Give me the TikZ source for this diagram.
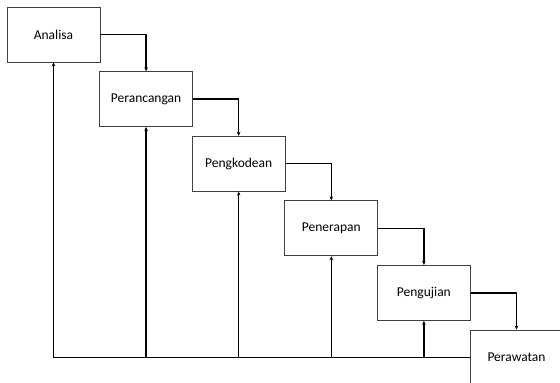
\documentclass[tikz,border=0pt]{standalone}
\usepackage{fontspec}
\setmainfont{Carlito}
\usetikzlibrary{arrows.meta}

\begin{document}
\begin{tikzpicture}[x=1pt, y=-1pt, every node/.style ={shape=rectangle, draw=black!75, line width=0.8pt, minimum width=93pt, minimum height=55pt, align=center, font=\fontsize{13.5}{16}\selectfont}, arr/.style={line width=1.4pt, -{Stealth[length=4pt,width=3.5pt]}}]
	\useasboundingbox (0,0) rectangle (560,383);
	\clip (0,0) rectangle (560,383);
	\node (analisa) at (53.5,34.5){Analisa};
	\node (perancangan) at (146.1,99.1){Perancangan};
	\node (pengkodean) at (238.7,163.7){Pengkodean};
	\node (penerapan) at (331.3,228.3){Penerapan};
	\node (pengujian) at (423.9,292.9){Pengujian};
	\node (perawatan) at (516.5,357.5){Perawatan};
	% alur maju
	\foreach \a/\b in {analisa/perancangan, perancangan/pengkodean, pengkodean/penerapan, penerapan/pengujian, pengujian/perawatan}
		\draw[arr] (\a.east) -| (\b.north);
	% alur balik
	\foreach \a in {analisa, perancangan, pengkodean, penerapan, pengujian}
		\draw[arr] (perawatan.west) -| (\a.south);
\end{tikzpicture}
\end{document}
